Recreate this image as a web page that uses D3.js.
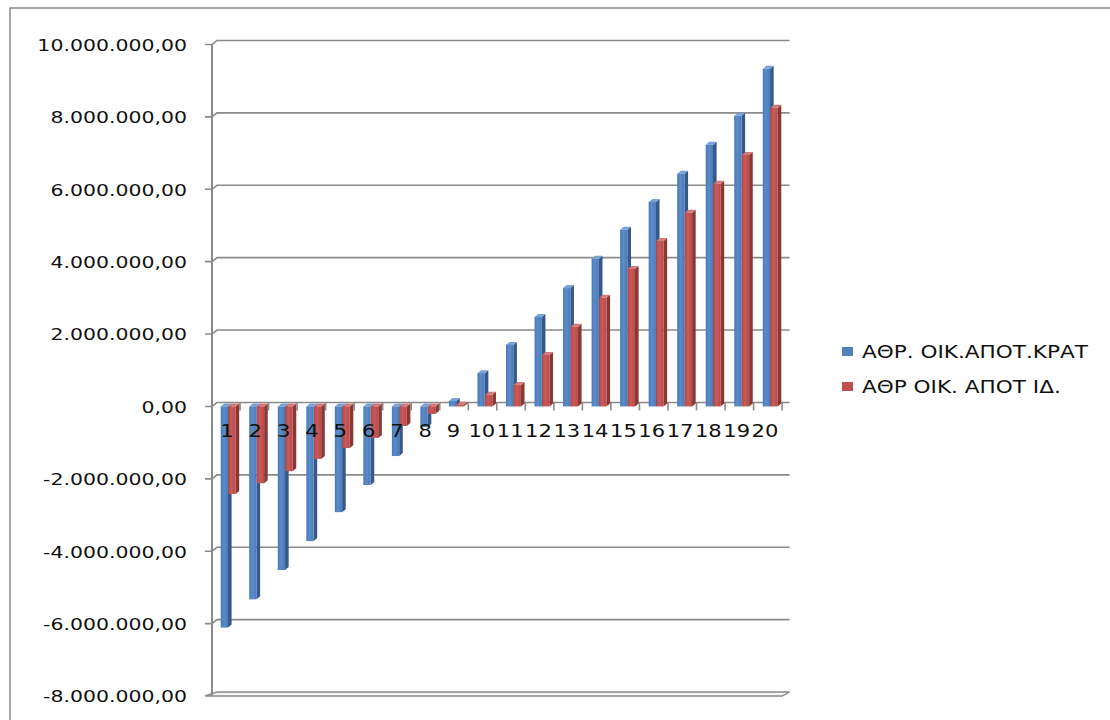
<!DOCTYPE html>
<html>
<head>
<meta charset="utf-8">
<script src="https://cdn.jsdelivr.net/npm/d3@7"></script>
<style>
  html, body { margin: 0; padding: 0; background: #fff; }
  svg { display: block; }
  text { font-family: "DejaVu Sans", Verdana, sans-serif; fill: #111; }
</style>
</head>
<body>
<svg id="chart" width="1110" height="720"></svg>
<script>
// Periods 1..20
const categories = d3.range(1, 21).map(String);

// Cumulative budget balance, public sector vs private (euro)
const seriesNames = ["ΑΘΡ. ΟΙΚ.ΑΠΟΤ.ΚΡΑΤ", "ΑΘΡ ΟΙΚ. ΑΠΟΤ ΙΔ."];
const kratValues = [
  -6110000, -5330000, -4520000, -3720000, -2920000, -2170000, -1370000, -570000,
  150000, 920000, 1700000, 2470000, 3270000, 4080000, 4880000, 5650000,
  6430000, 7230000, 8030000, 9330000
];
const idValues = [
  -2420000, -2120000, -1790000, -1450000, -1150000, -870000, -540000, -210000,
  50000, 320000, 590000, 1420000, 2200000, 3000000, 3800000, 4570000,
  5350000, 6150000, 6950000, 8250000
];
const yTicks = [-8000000, -6000000, -4000000, -2000000, 0, 2000000, 4000000, 6000000, 8000000, 10000000];

const svg = d3.select("#chart");

// outer chart-area frame
svg.append("rect")
  .attr("x", 10).attr("y", 8).attr("width", 1200).attr("height", 800)
  .attr("fill", "none").attr("stroke", "#8a8a8a").attr("stroke-width", 1.5);

// front-plane scales; the back wall is offset by (dx, dy)
const y = d3.scaleLinear().domain([-8000000, 10000000]).range([696, 44.5]);
const x = d3.scaleBand().domain(categories).range([211.5, 782.1]).padding(0);
const depthX = 6.5, depthY = -4;
const axisX = 212;

// Greek-style number format: 10.000.000,00
const fmt = d3.formatLocale({
  decimal: ",", thousands: ".", grouping: [3], currency: ["", "€"], minus: "-"
}).format(",.2f");

const gridColor = "#8a8a8a";
const stretch = 1.24;

// gridlines across side wall and back wall
const grid = svg.append("g");
yTicks.forEach(v => {
  const yf = y(v);
  if (v === -8000000) return;
  grid.append("path")
    .attr("d", `M${axisX - 7},${yf} L${axisX},${yf} L${axisX + 5},${yf + depthY} L${x.range()[1] + depthX + 1},${yf + depthY}`)
    .attr("fill", "none").attr("stroke", gridColor).attr("stroke-width", 1.6);
});

// floor at the axis minimum
const yFloor = y(-8000000);
svg.append("path")
  .attr("d", `M${axisX - 7},${yFloor} L${x.range()[1]},${yFloor} L${x.range()[1] + depthX + 1},${yFloor + depthY} L${axisX + 5},${yFloor + depthY} Z`)
  .attr("fill", "#f4f4f4").attr("stroke", gridColor).attr("stroke-width", 1.4);

// vertical axis line
svg.append("line")
  .attr("x1", axisX).attr("x2", axisX)
  .attr("y1", y(10000000)).attr("y2", yFloor)
  .attr("stroke", gridColor).attr("stroke-width", 2);

// value labels
svg.append("g").selectAll("text").data(yTicks).join("text")
  .attr("transform", d => `translate(187,${y(d)}) scale(${stretch},1)`)
  .attr("text-anchor", "end")
  .attr("dy", "0.38em")
  .attr("font-size", 16.5)
  .text(d => fmt(d));

// category tick marks hanging from the zero line
const yZeroBack = y(0) + depthY;
svg.append("g").selectAll("line").data(d3.range(1, 21)).join("line")
  .attr("x1", k => x.range()[0] + k * x.bandwidth())
  .attr("x2", k => x.range()[0] + k * x.bandwidth())
  .attr("y1", yZeroBack).attr("y2", yZeroBack + 8)
  .attr("stroke", gridColor).attr("stroke-width", 1.6);

// 3D column bars
const barW = 7.3, bdx = 3.6, bdy = -3;
const palette = [
  { front: ["#5b8bc8", "#4a7bb9"], side: "#36588a", top: "#7aa2d4" },
  { front: ["#c95a57", "#b94a47"], side: "#8a3735", top: "#d77a77" }
];
const defs = svg.append("defs");
palette.forEach((p, i) => {
  const g = defs.append("linearGradient").attr("id", "front" + i)
    .attr("x1", "0").attr("x2", "1").attr("y1", "0").attr("y2", "0");
  g.append("stop").attr("offset", "0%").attr("stop-color", p.front[1]);
  g.append("stop").attr("offset", "45%").attr("stop-color", p.front[0]);
  g.append("stop").attr("offset", "100%").attr("stop-color", p.front[1]);
});

const offsets = [9.2, 16.8];
const allSeries = [kratValues, idValues];
allSeries.forEach((vals, si) => {
  const p = palette[si];
  const data = categories.map((c, i) => ({ c, v: vals[i] }));
  const g = svg.append("g");
  const bars = g.selectAll("g").data(data).join("g");
  bars.each(function(d) {
    const gb = d3.select(this);
    const x0 = x(d.c) + offsets[si];
    const x1 = x0 + barW;
    const yA = Math.min(y(0), y(d.v));
    const yB = Math.max(y(0), y(d.v));
    // side face
    gb.append("path")
      .attr("d", `M${x1},${yA} L${x1 + bdx},${yA + bdy} L${x1 + bdx},${yB + bdy} L${x1},${yB} Z`)
      .attr("fill", p.side);
    // top face
    gb.append("path")
      .attr("d", `M${x0},${yA} L${x0 + bdx},${yA + bdy} L${x1 + bdx},${yA + bdy} L${x1},${yA} Z`)
      .attr("fill", p.top);
    // front face
    gb.append("rect")
      .attr("x", x0).attr("y", yA)
      .attr("width", barW).attr("height", Math.max(0.5, yB - yA))
      .attr("fill", `url(#front${si})`);
  });
});

// category labels
const xl = d3.scalePoint().domain(categories).range([227, 765]);
svg.append("g").selectAll("text").data(categories).join("text")
  .attr("transform", d => `translate(${xl(d)},437) scale(${stretch},1)`)
  .attr("text-anchor", "middle")
  .attr("font-size", 17)
  .text(d => d);

// legend
const legend = svg.append("g");
seriesNames.forEach((name, i) => {
  const ly = 352 + i * 35;
  legend.append("rect")
    .attr("x", 842).attr("y", ly - 5).attr("width", 11).attr("height", 9)
    .attr("fill", i === 0 ? "#4f81bd" : "#c0504d");
  legend.append("text")
    .attr("transform", `translate(862,${ly}) scale(1.27,1)`)
    .attr("dy", "0.36em")
    .attr("font-size", 17)
    .text(name);
});
</script>
</body>
</html>
